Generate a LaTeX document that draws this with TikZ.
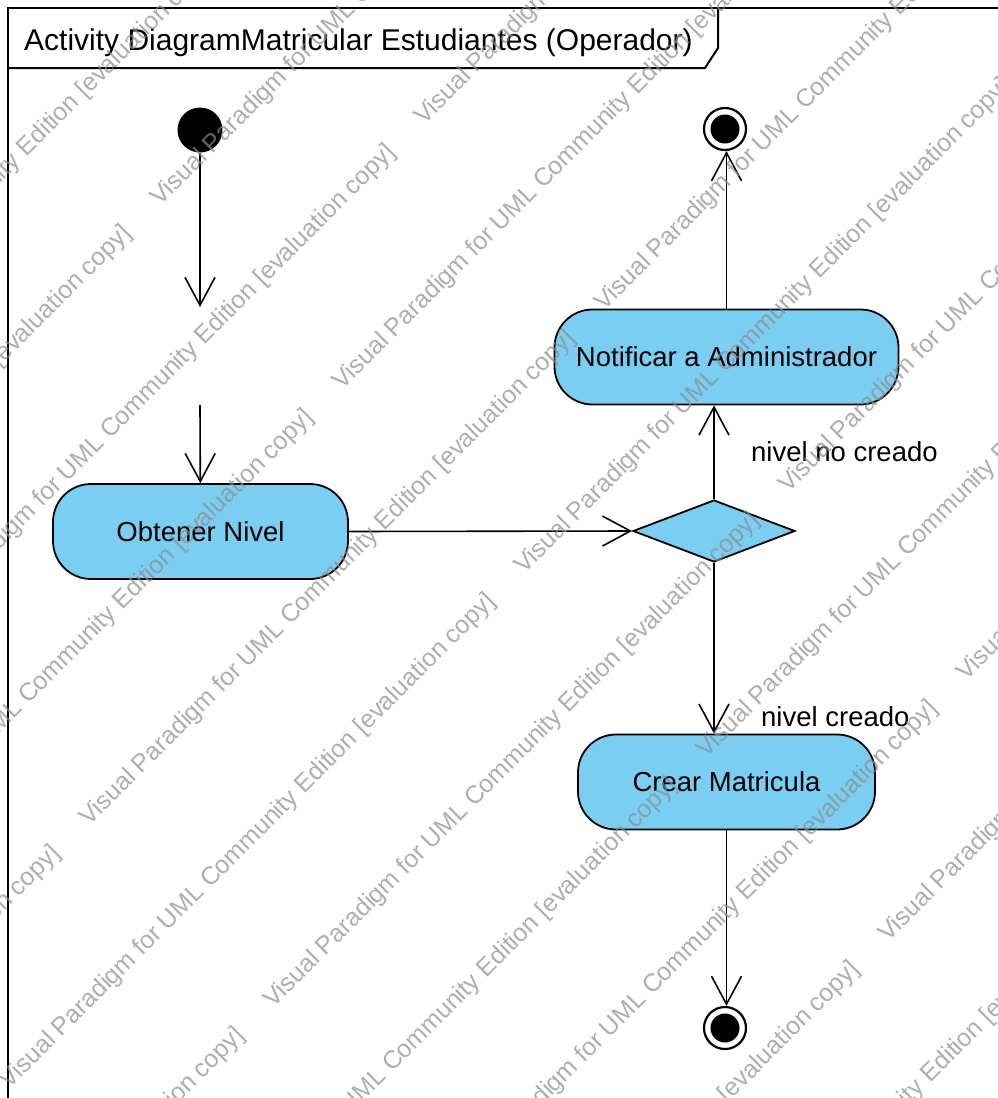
\documentclass[tikz,border=0pt]{standalone}
\usepackage{fontspec}
\setmainfont{Liberation Sans}
\usetikzlibrary{arrows.meta,shapes.geometric}
\definecolor{actfill}{RGB}{122,206,242}
\definecolor{wmgray}{RGB}{140,140,140}
\begin{document}
\begin{tikzpicture}[x=1pt,y=-1pt,
  flow/.style={line width=1.6pt,-{Straight Barb[length=28pt,width=30pt,line width=1.6pt]}},
  action/.style={draw,line width=1.8pt,fill=actfill,rectangle,rounded corners=38pt,
    minimum width=295pt,minimum height=95pt,inner sep=0pt,font=\fontsize{27.5}{31}\selectfont},
  guard/.style={anchor=west,inner sep=0pt,font=\fontsize{27.5}{31}\selectfont},
  decision/.style={draw,line width=1.8pt,fill=actfill,diamond,aspect=2.6,
    minimum width=162pt,minimum height=62pt,inner sep=0pt},
  finalring/.style={draw,circle,line width=2.2pt,minimum size=42pt,inner sep=0pt},
  wmark/.style={anchor=base west,rotate=45,inner sep=0pt,text=wmgray,text opacity=0.7,
    font=\fontsize{25}{28}\selectfont},
]
\useasboundingbox (0,0) rectangle (998,1098);
\fill[white] (0,0) rectangle (998,1098);

% diagram frame and its name tab
\draw[line width=2pt] (998,8) -- (8,8) -- (8,1098);
\draw[line width=2pt] (8,68) -- (705,68) -- (718,48) -- (718,8);
\node[anchor=base west,inner sep=0pt,font=\fontsize{30}{34}\selectfont] (title) at (24,50)
  {Activity DiagramMatricular Estudiantes (Operador)};

% activity nodes
\node[circle,fill=black,minimum size=45pt,inner sep=0pt] (init) at (200,130) {};
\coordinate (gapTop) at (200,307);
\coordinate (gapBot) at (200,405);
\node[action] (obt) at (200.5,531.5) {Obtener Nivel};
\node[decision] (dec) at (714,531) {};
\node[action,minimum width=344pt] (notif) at (726.5,357) {Notificar a Administrador};
\node[action,minimum width=297pt] (crear) at (726.5,782) {Crear Matricula};
\node[finalring] (fin1) at (725,129) {};
\fill (fin1.center) circle (14.5pt);
\node[finalring] (fin2) at (725,1028) {};
\fill (fin2.center) circle (14.5pt);
\node[guard] (gNo) at (751,452) {nivel no creado};
\node[guard] (gYes) at (761,717) {nivel creado};

% control flows
\draw[flow] (init) -- (gapTop);
\draw[flow] (gapBot) -- (obt);
\draw[flow] (obt.east) -- (dec.west);
\draw[flow] (dec.north) -- (dec.north |- notif.south);
\draw[flow] (notif.north) -- (notif.north |- fin1.south);
\draw[flow] (dec.south) -- (dec.south |- crear.north);
\draw[flow] (crear.south) -- (crear.south |- fin2.north);

% evaluation watermark, tiled along diagonal rows
\begin{scope}
\clip (0,0) rectangle (998,1098);
\foreach \c/\p in {184/246,367/160,550/424,733/342,916/604,1099/524,1282/788,1465/706,1648/966,1831/888,2014/1150} {
  \foreach \n in {-3,...,2} {
    \pgfmathsetmacro\s{\p+515*\n}
    \pgfmathsetmacro\t{\c-\s}
    \node[wmark] at (\s,\t) {Visual Paradigm for UML Community Edition [evaluation copy]};
  }
}
\end{scope}
\end{tikzpicture}
\end{document}
